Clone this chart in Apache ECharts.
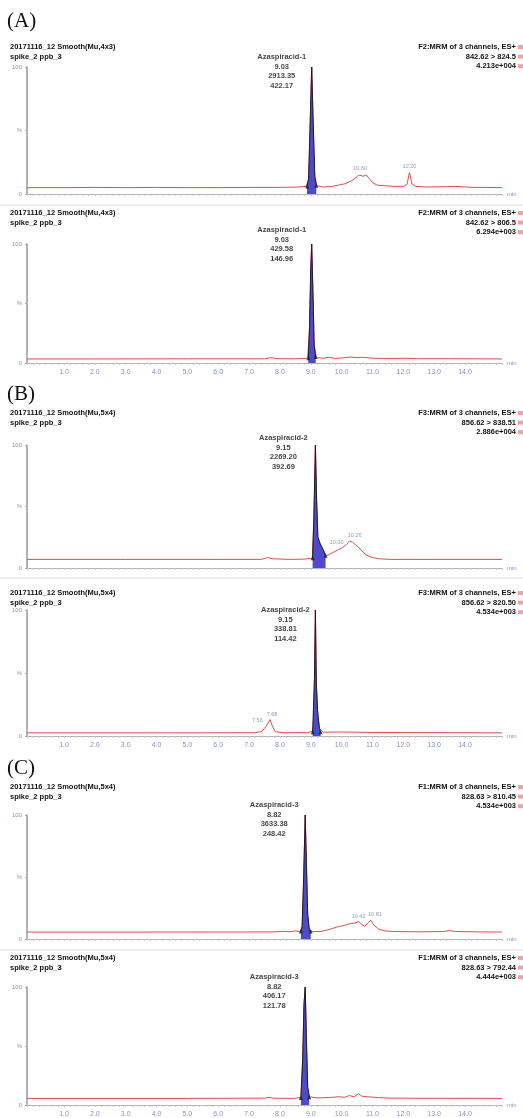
<!DOCTYPE html>
<html lang="en">
<head>
<meta charset="UTF-8">
<title>Azaspiracid MRM</title>
<script src="https://cdn.jsdelivr.net/npm/echarts@6/dist/echarts.min.js"></script>
<style>
    html, body { margin: 0; padding: 0; background: #fff; }
    #chart { width: 523px; height: 1118px; }
</style>
</head>
<body>
<div id="chart"></div>
<script>
// ---- header texts ----
const panelLetters = ['(A)', '(B)', '(C)'];
const runNames = ['20171116_12 Smooth(Mu,4x3)', '20171116_12 Smooth(Mu,4x3)',
                  '20171116_12 Smooth(Mu,5x4)', '20171116_12 Smooth(Mu,5x4)',
                  '20171116_12 Smooth(Mu,5x4)', '20171116_12 Smooth(Mu,5x4)'];
const sampleName = 'spike_2 ppb_3';
const channels = ['F2:MRM of 3 channels, ES+', 'F2:MRM of 3 channels, ES+',
                  'F3:MRM of 3 channels, ES+', 'F3:MRM of 3 channels, ES+',
                  'F1:MRM of 3 channels, ES+', 'F1:MRM of 3 channels, ES+'];
const transitions = ['842.62 > 824.5', '842.62 > 806.5', '856.62 > 838.51',
                     '856.62 > 820.50', '828.63 > 810.45', '828.63 > 792.44'];
const intensities = ['4.213e+004', '6.294e+003', '2.886e+004', '4.534e+003', '4.534e+003', '4.444e+003'];

// ---- integrated peaks ----
const compounds = ['Azaspiracid-1', 'Azaspiracid-1', 'Azaspiracid-2', 'Azaspiracid-2', 'Azaspiracid-3', 'Azaspiracid-3'];
const retTimes = [9.03, 9.03, 9.15, 9.15, 8.82, 8.82];
const peakAreas = ['2913.35', '429.58', '2269.20', '338.81', '3633.38', '406.17'];
const peakSN = ['422.17', '146.96', '392.69', '114.42', '248.42', '121.78'];

// ---- x tick labels (min) ----
const xTickValues = [1, 2, 3, 4, 5, 6, 7, 8, 9, 10, 11, 12, 13, 14];

// ---- traces [time, %] ----
const traceA1 = [[-0.2,5],[1,5],[2,5.2],[3,5],[4,5.2],[5,5],[6,5],[7,5.2],[8,5.2],[8.6,5.5],[8.85,6],[8.93,12],
    [8.98,55],[9.03,100],[9.08,55],[9.13,14],[9.2,6.5],[9.4,5.5],[9.7,6],[9.9,7],[10.1,8],[10.3,10],[10.45,12.5],
    [10.55,15],[10.6,16],[10.7,14],[10.8,15],[10.9,12],[11.0,9],[11.15,7],[11.4,6.5],[11.7,6],[12.0,6],[12.12,7.5],
    [12.2,17],[12.28,8],[12.4,6],[12.8,5.5],[13.4,5.8],[13.7,6],[14.2,5.3],[15.2,5]];
const peakA1 = [[8.88,6],[8.93,12],[8.98,55],[9.03,100],[9.08,55],[9.13,14],[9.18,6.5]];
const minorA1 = [[10.6,16],[12.2,17]];
const minorTextA1 = ['10.60', '12.20'];

const traceA2 = [[-0.2,3.4],[2,3.4],[5,3.5],[7.5,3.5],[7.7,4.5],[7.9,3.6],[8.5,3.5],[8.9,4],[8.96,30],[9.0,80],
    [9.03,100],[9.07,60],[9.11,15],[9.18,4.5],[9.4,4],[9.6,4.8],[9.8,3.8],[10.1,4.5],[10.3,5],[10.5,4.5],[10.7,4.8],
    [11.0,4],[11.4,3.8],[12.0,4],[12.5,3.6],[13.5,3.6],[15.2,3.4]];
const peakA2 = [[8.92,4],[8.96,30],[9.0,80],[9.03,100],[9.07,60],[9.11,15],[9.16,5]];
const minorA2 = [];
const minorTextA2 = [];

const traceB1 = [[-0.2,7],[3,7],[6,7],[7.4,7],[7.6,8.5],[7.75,7.5],[8.3,7],[8.8,7.2],[9.05,8],[9.1,40],[9.15,100],
    [9.19,55],[9.23,25],[9.3,20],[9.4,15],[9.5,10],[9.6,11],[9.75,13],[9.9,15],[10.0,16],[10.15,19],[10.26,22],
    [10.35,21],[10.5,18],[10.65,14],[10.8,10.5],[11.0,8.5],[11.2,7.5],[11.6,7],[12.5,7],[15.2,7]];
const peakB1 = [[9.06,8],[9.1,40],[9.15,100],[9.19,55],[9.23,25],[9.3,20],[9.4,15],[9.48,10]];
const minorB1 = [[10.0,16],[10.26,22]];
const minorTextB1 = ['10.00', '10.26'];

const traceB2 = [[-0.2,2.5],[4,2.5],[7.2,2.6],[7.4,3.5],[7.5,6],[7.56,8],[7.62,7],[7.68,13],[7.75,8],[7.85,3.5],
    [8.1,2.6],[8.9,2.7],[9.08,4],[9.12,45],[9.15,100],[9.18,42],[9.22,20],[9.28,6],[9.4,3],[10,3.2],[11,2.8],
    [12.5,2.7],[15.2,2.5]];
const peakB2 = [[9.06,3],[9.12,45],[9.15,100],[9.18,42],[9.22,20],[9.28,6],[9.32,3]];
const minorB2 = [[7.56,8],[7.68,13]];
const minorTextB2 = ['7.56', '7.68'];

const traceC1 = [[-0.2,5.6],[4,5.6],[7.8,5.7],[8.1,6.2],[8.3,5.8],[8.5,6.5],[8.65,6],[8.72,10],[8.77,50],[8.82,100],
    [8.86,60],[8.9,20],[8.95,8],[9.05,6],[9.3,6],[9.5,7],[9.7,8.5],[9.9,10],[10.1,11],[10.3,12.5],[10.45,13],
    [10.55,14],[10.65,12],[10.75,10],[10.85,13],[10.95,15],[11.05,11],[11.2,8],[11.4,6.5],[11.8,6],[12.5,5.8],
    [13.3,6],[13.5,6.8],[13.7,6],[14.5,5.7],[15.2,5.6]];
const peakC1 = [[8.68,6],[8.72,10],[8.77,50],[8.82,100],[8.86,60],[8.9,20],[8.95,8],[9.0,6]];
const minorC1 = [[10.55,14],[10.95,15]];
const minorTextC1 = ['10.42', '10.81'];

const traceC2 = [[-0.2,5.6],[5,5.6],[7.5,5.8],[7.65,6.5],[7.8,5.7],[8.5,5.7],[8.68,6.5],[8.74,40],[8.78,85],
    [8.82,100],[8.86,55],[8.9,15],[8.96,7],[9.2,6],[9.6,6.3],[9.9,7],[10.1,6.5],[10.25,8],[10.4,7],[10.55,9.5],
    [10.65,7.5],[10.9,6.8],[11.2,6.3],[11.6,5.8],[12.5,5.7],[15.2,5.6]];
const peakC2 = [[8.68,6],[8.74,40],[8.78,85],[8.82,100],[8.86,55],[8.9,15],[8.95,6.5]];
const minorC2 = [];
const minorTextC2 = [];

// 各面板的布局
const panels = [
    { trace: traceA1, peak: peakA1, minor: minorA1, minorText: minorTextA1, top: 67,  axisY: 194,  head: 47,  lab: 57,  labX: -30, bottom: false, shift: [0, 0] },
    { trace: traceA2, peak: peakA2, minor: minorA2, minorText: minorTextA2, top: 244, axisY: 363,  head: 213, lab: 230, labX: -30, bottom: true,  shift: [] },
    { trace: traceB1, peak: peakB1, minor: minorB1, minorText: minorTextB1, top: 445, axisY: 568,  head: 413, lab: 438, labX: -32, bottom: false, shift: [-5, 5] },
    { trace: traceB2, peak: peakB2, minor: minorB2, minorText: minorTextB2, top: 610, axisY: 736,  head: 593, lab: 610, labX: -30, bottom: true,  shift: [-9, 2] },
    { trace: traceC1, peak: peakC1, minor: minorC1, minorText: minorTextC1, top: 815, axisY: 939,  head: 787, lab: 805, labX: -31, bottom: false, shift: [0, 4] },
    { trace: traceC2, peak: peakC2, minor: minorC2, minorText: minorTextC2, top: 987, axisY: 1111, head: 958, lab: 977, labX: -31, bottom: true,  shift: [] }
];
const letterY = [21, 394, 768];
const separatorY = [205, 578, 950];

const FONT = 'Liberation Sans, Arial, sans-serif';
const BLUE_TXT = '#8392c9';
const LH = 9.6;

function text(x, y, str, align, font, color) {
    return {
        type: 'text', x: x, y: y, silent: true,
        style: { text: str, font: font, fill: color, align: align, textAlign: align,
                 verticalAlign: 'top', textVerticalAlign: 'top', lineHeight: LH }
    };
}

const option = { animation: false, grid: [], xAxis: [], yAxis: [], series: [], graphic: [] };

panels.forEach((p, i) => {
    option.grid.push({ left: 27, right: 21, top: p.top, height: p.axisY - p.top });
    option.xAxis.push({
        gridIndex: i, type: 'value', min: -0.2, max: 15.2, interval: 0.2,
        axisLine: { show: true, onZero: false, lineStyle: { color: '#b4b4b4', width: 1 } },
        axisTick: { show: true, length: 2, lineStyle: { color: '#c4c4c4' } },
        axisLabel: { show: p.bottom, customValues: xTickValues, formatter: v => v.toFixed(1),
                     fontSize: 7, color: BLUE_TXT, margin: 6, fontFamily: FONT },
        splitLine: { show: false },
        name: 'min', nameLocation: 'end', nameGap: 5,
        nameTextStyle: { fontSize: 6, color: BLUE_TXT, fontFamily: FONT }
    });
    option.yAxis.push({
        gridIndex: i, type: 'value', min: 0, max: 100,
        axisLine: { show: true, onZero: false, lineStyle: { color: '#9a9a9a', width: 1.5 } },
        axisTick: { show: true, length: 2, customValues: [0, 50, 100], lineStyle: { color: '#aaa' } },
        axisLabel: { customValues: [0, 50, 100], formatter: v => (v === 50 ? '%' : String(v)),
                     fontSize: 6, color: BLUE_TXT, margin: 5, fontFamily: FONT },
        splitLine: { show: false }
    });

    // 原始色谱 (红)
    option.series.push({
        type: 'line', xAxisIndex: i, yAxisIndex: i, data: p.trace, showSymbol: false, silent: true,
        lineStyle: { color: '#e8484c', width: 1 }, z: 2
    });
    // 积分峰 (蓝)
    option.series.push({
        type: 'line', xAxisIndex: i, yAxisIndex: i, data: p.peak, showSymbol: false, silent: true,
        lineStyle: { color: '#1c1c30', width: 1 },
        areaStyle: { color: '#4a4cc9', opacity: 1, origin: 'start' }, z: 3
    });
    // 峰起止标记
    option.series.push({
        type: 'scatter', xAxisIndex: i, yAxisIndex: i, silent: true,
        data: [p.peak[0], p.peak[p.peak.length - 1]],
        symbol: 'triangle', symbolSize: 4, itemStyle: { color: '#151515' }, z: 4
    });
    // 峰标签
    const info = [compounds[i], retTimes[i].toFixed(2), peakAreas[i], peakSN[i]].join('\n');
    option.series.push({
        type: 'scatter', xAxisIndex: i, yAxisIndex: i, silent: true,
        data: [[retTimes[i], 100]], symbolSize: 1, itemStyle: { color: 'rgba(0,0,0,0)' },
        label: {
            show: true, position: 'inside', formatter: info,
            offset: [p.labX, p.lab - p.top - LH / 2], align: 'center', verticalAlign: 'top',
            fontSize: 7.5, fontWeight: 'bold', color: '#111', lineHeight: LH, fontFamily: FONT
        }, z: 5
    });
    // 小峰标签
    if (p.minor.length) {
        option.series.push({
            type: 'scatter', xAxisIndex: i, yAxisIndex: i, silent: true,
            data: p.minor.map((d, k) => ({ value: d, name: p.minorText[k],
                label: { offset: [p.shift[k] || 0, 0] } })),
            symbolSize: 1, itemStyle: { color: 'rgba(0,0,0,0)' },
            label: { show: true, position: 'top', distance: 2, formatter: '{b}',
                     fontSize: 5.5, color: '#6f7fb8', fontFamily: FONT }, z: 5
        });
    }

    // 表头文字
    const hfont = 'bold 7.5px ' + FONT;
    option.graphic.push(text(10, p.head - LH / 2, runNames[i] + '\n' + sampleName, 'left', hfont, '#111'));
    option.graphic.push(text(516, p.head - LH / 2, [channels[i], transitions[i], intensities[i]].join('\n'), 'right', hfont, '#111'));
    [0, 1, 2].forEach(k => {
        option.graphic.push({ type: 'rect', silent: true,
            shape: { x: 518, y: p.head - 2 + k * LH, width: 5, height: 4 },
            style: { fill: '#f2a0a0' } });
    });
});

panelLetters.forEach((s, k) => {
    option.graphic.push({ type: 'text', x: 7, y: letterY[k], silent: true,
        style: { text: s, font: '21px Liberation Serif, Times New Roman, serif', fill: '#111',
                 verticalAlign: 'middle', textVerticalAlign: 'middle' } });
});
separatorY.forEach(y => {
    option.graphic.push({ type: 'line', silent: true, shape: { x1: 0, y1: y, x2: 523, y2: y },
        style: { stroke: '#dcdcdc', lineWidth: 1 } });
});

const chart = echarts.init(document.getElementById('chart'));
chart.setOption(option);
</script>
</body>
</html>
